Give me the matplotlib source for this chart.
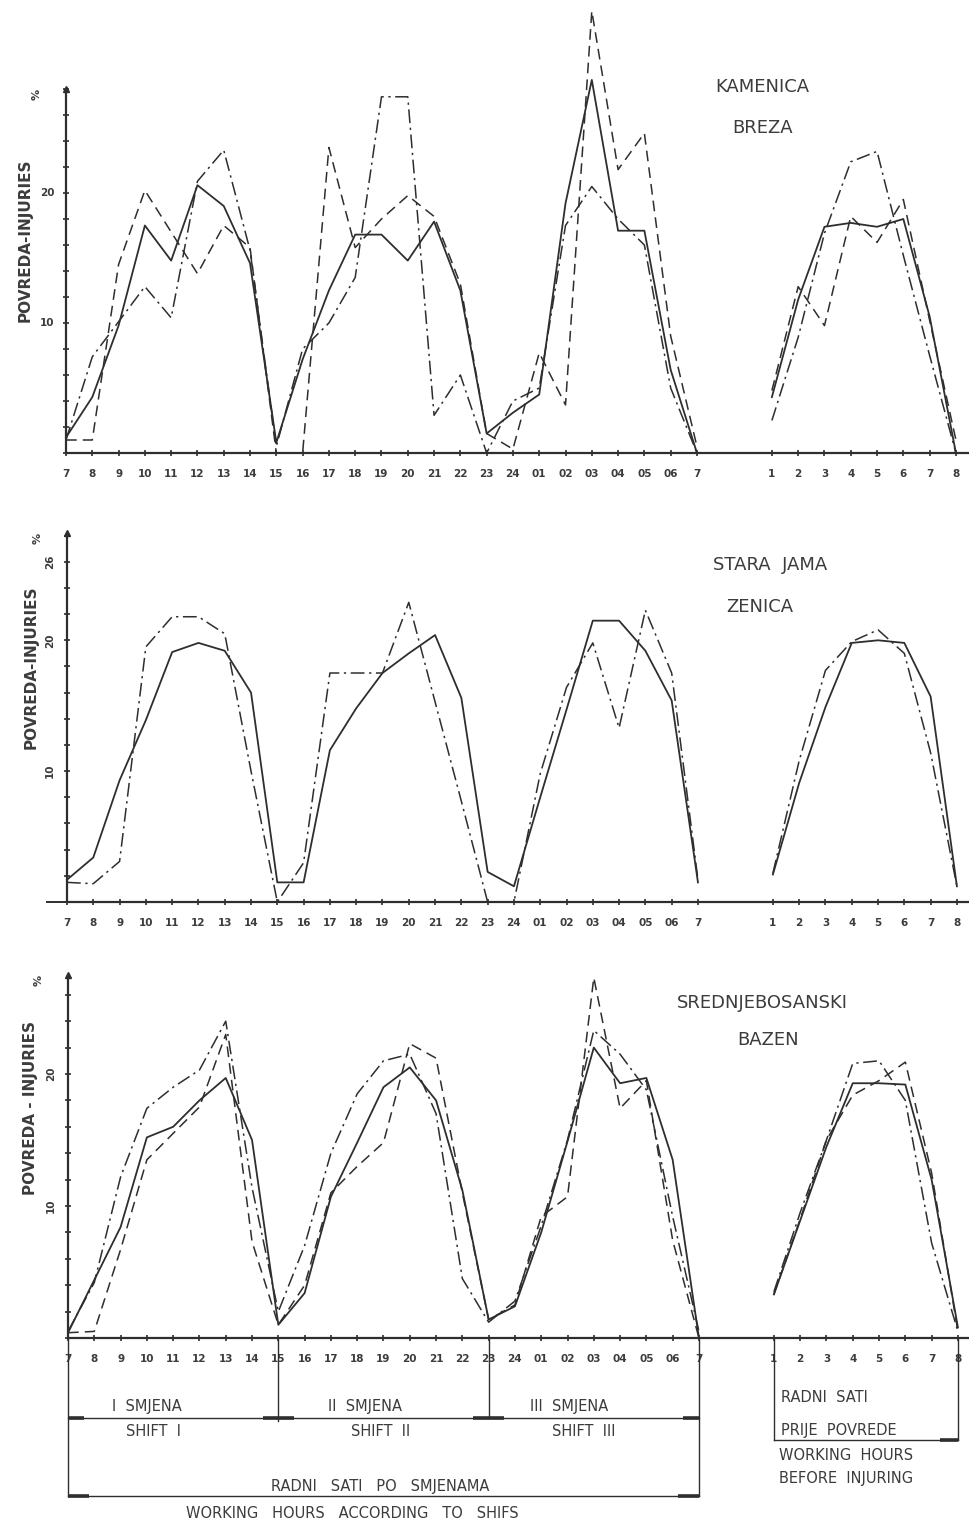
import matplotlib.pyplot as plt

W, H = 970, 1526
INK = '#2e2e2e'
TXT = '#3c3c3c'
DASH = (0, (7, 4))
DASHDOT = (0, (9, 3, 1.5, 3))

# x labels: hours by shift, then hours worked before the injury
hours = ["7", "8", "9", "10", "11", "12", "13", "14", "15", "16", "17", "18", "19",
         "20", "21", "22", "23", "24", "01", "02", "03", "04", "05", "06", "7"]
before = ["1", "2", "3", "4", "5", "6", "7", "8"]
shift_x = list(range(len(hours)))
before_x = [26.85 + i for i in range(len(before))]

# KAMENICA / BREZA
kam_solid = [1.2, 4.3, 9.8, 17.5, 14.8, 20.6, 19.0, 14.6, 0.8, 7.2, 12.5, 16.8, 16.8,
             14.8, 17.8, 12.5, 1.5, 3.1, 4.5, 19.2, 28.7, 17.1, 17.1, 6.4, 0.0]
kam_solid_b = [4.3, 11.8, 17.4, 17.7, 17.4, 18.0, 10.5, 0.0]
kam_dash = [1.0, 1.0, 14.5, 20.2, 17.0, 13.8, 17.5, 15.8, 0.0, 0.0, 23.5, 15.8, 18.0,
            19.8, 18.2, 13.0, 1.5, 0.3, 7.7, 3.7, 34.0, 21.8, 24.6, 9.0, 0.5]
kam_dash_b = [4.8, 12.8, 9.8, 18.2, 16.2, 19.5, 10.2, 1.0]
kam_dd = [1.0, 7.4, 10.1, 12.8, 10.4, 20.9, 23.3, 15.6, 0.5, 8.0, 10.0, 13.5, 27.4,
          27.4, 2.9, 6.0, 0.0, 4.0, 5.0, 17.5, 20.5, 18.0, 16.0, 5.0, 0.0]
kam_dd_b = [2.5, 8.9, 16.9, 22.4, 23.2, 15.2, 7.5, 0.0]

# STARA JAMA / ZENICA
sj_solid = [1.7, 3.4, 9.3, 13.9, 19.1, 19.8, 19.2, 16.0, 1.5, 1.5, 11.6, 14.8, 17.5,
            19.0, 20.4, 15.6, 2.3, 1.2, 8.0, 14.7, 21.5, 21.5, 19.2, 15.4, 1.5]
sj_solid_b = [2.1, 9.1, 14.9, 19.8, 20.0, 19.8, 15.7, 1.2]
sj_dd = [1.5, 1.4, 3.1, 19.5, 21.8, 21.8, 20.5, 10.0, 0.0, 3.0, 17.5, 17.5, 17.5,
         22.9, 15.3, 7.7, 0.0, 0.0, 9.8, 16.4, 19.8, 13.3, 22.3, 17.5, 1.7]
sj_dd_b = [2.2, 10.8, 17.7, 19.9, 20.8, 19.0, 11.4, 1.2]

# SREDNJEBOSANSKI BAZEN
sb_solid = [0.4, 4.4, 8.4, 15.2, 16.0, 18.0, 19.7, 15.0, 1.0, 3.4, 10.7, 14.8, 19.0,
            20.5, 18.0, 11.2, 1.4, 2.4, 8.0, 14.9, 22.0, 19.3, 19.7, 13.5, 0.0]
sb_solid_b = [3.3, 8.9, 14.5, 19.3, 19.3, 19.2, 12.0, 0.8]
sb_dash = [0.4, 0.5, 6.7, 13.5, 15.5, 17.5, 23.0, 7.3, 1.0, 4.0, 11.0, 13.0, 14.8,
           22.3, 21.2, 11.0, 1.4, 2.5, 9.2, 10.7, 27.3, 17.4, 19.5, 7.4, 0.0]
sb_dash_b = [3.3, 9.0, 15.0, 18.4, 19.5, 20.9, 12.5, 0.5]
sb_dd = [0.5, 4.2, 12.2, 17.4, 19.0, 20.3, 24.0, 11.4, 2.0, 7.0, 14.0, 18.5, 21.0,
         21.5, 17.0, 4.5, 1.2, 2.8, 8.5, 15.0, 23.3, 21.5, 18.8, 9.2, 0.5]
sb_dd_b = [3.5, 9.5, 15.0, 20.8, 21.0, 18.0, 7.2, 0.5]

fig = plt.figure(figsize=(W / 100, H / 100), dpi=100)
fig.patch.set_facecolor('white')

XMAX = 34.3
XPX = 26.29


def make_axes(left, base, top, ymax, yticklabels, rot):
    ax = fig.add_axes([left / W, 1 - base / H, XMAX * XPX / W, (base - top) / H])
    ax.set_xlim(0, XMAX)
    ax.set_ylim(0, ymax)
    for s in ['top', 'right']:
        ax.spines[s].set_visible(False)
    for s in ['left', 'bottom']:
        ax.spines[s].set_color(INK)
        ax.spines[s].set_linewidth(1.6)
    ax.set_xticks(shift_x + before_x)
    ax.set_xticklabels(hours + before, fontsize=7.5, fontweight='bold', color=TXT)
    ax.tick_params(axis='x', direction='inout', length=5, width=1.2, color=INK, pad=9)
    ax.set_yticks(list(range(0, int(ymax) + 1, 2)))
    ax.set_yticklabels([yticklabels.get(v, '') for v in range(0, int(ymax) + 1, 2)],
                       fontsize=7.5, fontweight='bold', color=TXT, rotation=rot,
                       va='center')
    ax.tick_params(axis='y', direction='inout', length=5, width=1.2, color=INK, pad=6)
    ax.plot([0], [ymax], marker='^', ms=5, color=INK, clip_on=False)
    ax.text(-1.1, ymax - 0.4, '%', fontsize=8, fontweight='bold', color=TXT,
            rotation=90, ha='center', va='center')
    ax.set_facecolor('none')
    return ax


def draw(ax, ys, ys_b, style, lw=1.3):
    ax.plot(shift_x, ys, color=INK, lw=lw, linestyle=style, clip_on=False)
    ax.plot(before_x, ys_b, color=INK, lw=lw, linestyle=style, clip_on=False)


ax1 = make_axes(66, 453, 89, 28, {10: '10', 20: '20'}, 0)
draw(ax1, kam_dd, kam_dd_b, DASHDOT, 1.1)
draw(ax1, kam_dash, kam_dash_b, DASH, 1.1)
draw(ax1, kam_solid, kam_solid_b, '-')

ax2 = make_axes(67, 902, 533, 28.2, {10: '10', 20: '20', 26: '26'}, 90)
ax2.plot([-0.75, 0], [0, 0], color=INK, lw=1.4, clip_on=False)
draw(ax2, sj_dd, sj_dd_b, DASHDOT, 1.1)
draw(ax2, sj_solid, sj_solid_b, '-')

ax3 = make_axes(68, 1338, 975, 27.5, {10: '10', 20: '20'}, 90)
draw(ax3, sb_dd, sb_dd_b, DASHDOT, 1.1)
draw(ax3, sb_dash, sb_dash_b, DASH, 1.1)
draw(ax3, sb_solid, sb_solid_b, '-')

# y axis titles and panel names
for x, y, t in [(25, 240, 'POVREDA-INJURIES'), (31, 667, 'POVREDA-INJURIES'),
                (31, 1108, 'POVREDA - INJURIES')]:
    fig.text(x / W, 1 - y / H, t, rotation=90, ha='center', va='center',
             fontsize=11, fontweight='bold', color=TXT)

for x, y, t in [(762, 87, 'KAMENICA'), (763, 128, 'BREZA'),
                (770, 565, 'STARA  JAMA'), (760, 607, 'ZENICA'),
                (762, 1003, 'SREDNJEBOSANSKI'), (768, 1040, 'BAZEN')]:
    fig.text(x / W, 1 - y / H, t, ha='center', va='center', fontsize=13, color=TXT)

# shift brackets under the bottom panel (y in data units of the bottom axes)
y_shift = -(1418 - 1338) / 13.2
y_all = -(1496 - 1338) / 13.2
y_box = -(1440 - 1338) / 13.2
bk = dict(color=INK, lw=1.0, clip_on=False)
ax3.plot([0, 0], [0, y_all], **bk)
ax3.plot([24, 24], [0, y_all], **bk)
ax3.plot([8, 8], [0, y_shift - 0.2], **bk)
ax3.plot([16, 16], [0, y_shift], **bk)
ax3.plot([0, 24], [y_shift, y_shift], **bk)
ax3.plot([0, 24], [y_all, y_all], **bk)
ax3.plot([before_x[0], before_x[0]], [0, y_box], **bk)
ax3.plot([before_x[-1], before_x[-1]], [0, y_box], **bk)
ax3.plot([before_x[0], before_x[-1]], [y_box, y_box], **bk)
thick = dict(color=INK, lw=2.6, clip_on=False, solid_capstyle='butt')
for a, b, y in [(0, 0.6, y_shift), (7.4, 8.6, y_shift), (15.4, 16.6, y_shift),
                (23.4, 24, y_shift), (0, 0.8, y_all), (23.2, 24, y_all),
                (before_x[-1] - 0.7, before_x[-1], y_box)]:
    ax3.plot([a, b], [y, y], **thick)

for x, y, t, ha in [(147, 1407, 'I  SMJENA', 'center'), (154, 1432, 'SHIFT  I', 'center'),
                    (365, 1407, 'II  SMJENA', 'center'), (381, 1432, 'SHIFT  II', 'center'),
                    (569, 1407, 'III  SMJENA', 'center'), (584, 1432, 'SHIFT  III', 'center'),
                    (380, 1487, 'RADNI   SATI   PO   SMJENAMA', 'center'),
                    (352, 1513, 'WORKING   HOURS   ACCORDING   TO   SHIFS', 'center'),
                    (781, 1397, 'RADNI  SATI', 'left'),
                    (781, 1430, 'PRIJE  POVREDE', 'left'),
                    (779, 1455, 'WORKING  HOURS', 'left'),
                    (779, 1478, 'BEFORE  INJURING', 'left')]:
    fig.text(x / W, 1 - y / H, t, ha=ha, va='center', fontsize=10.5, color=TXT)

fig.savefig('out.png', dpi=100, facecolor='white')
